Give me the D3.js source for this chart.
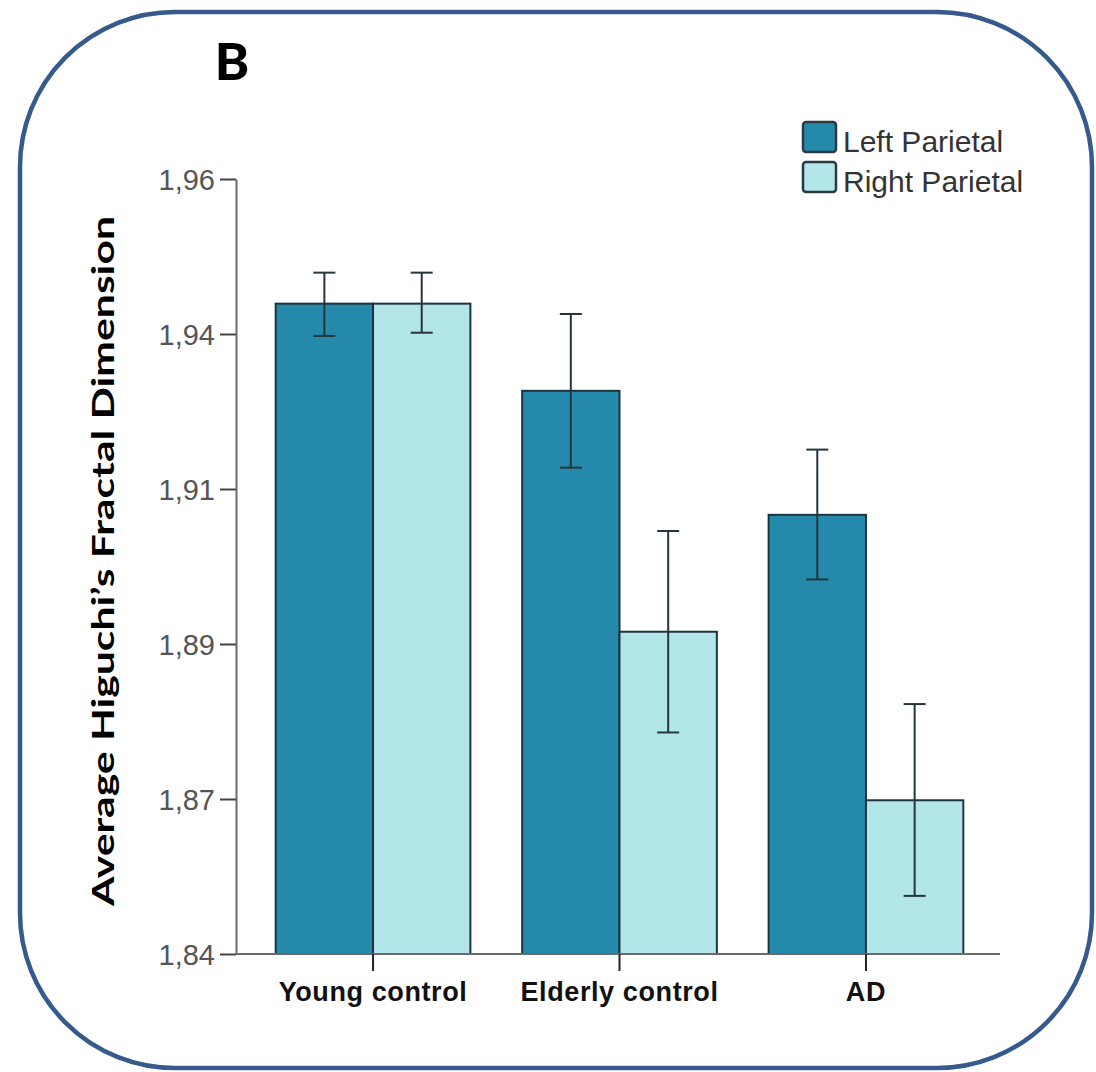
<!DOCTYPE html>
<html>
<head>
<meta charset="utf-8">
<script src="https://cdn.jsdelivr.net/npm/d3@7"></script>
<style>
  html, body { margin: 0; padding: 0; background: #ffffff; }
  svg { display: block; }
</style>
</head>
<body>
<svg id="chart" width="1096" height="1072"></svg>
<script>
// Groups and series
const groups = ["Young control", "Elderly control", "AD"];
const seriesNames = ["Left Parietal", "Right Parietal"];

// Mean Higuchi fractal dimension per group, one array per hemisphere
const leftMeans  = [1.9407, 1.9272, 1.9080];
const rightMeans = [1.9407, 1.8899, 1.8638];

// Error bar ends (lower / upper)
const leftLower  = [1.9357, 1.9153, 1.8980];
const leftUpper  = [1.9455, 1.9391, 1.9181];
const rightLower = [1.9362, 1.8743, 1.8490];
const rightUpper = [1.9455, 1.9055, 1.8787];

// Y axis ticks and their printed labels
const yTickValues = [1.84, 1.864, 1.888, 1.912, 1.936, 1.96];
const yTickLabels = ["1,84", "1,87", "1,89", "1,91", "1,94", "1,96"];

const colors = ["#2589ab", "#b3e6e8"];
const barStroke = "#1c3440";

const svg = d3.select("#chart");

// Rounded frame around the panel
svg.append("rect")
  .attr("x", 20).attr("y", 12)
  .attr("width", 1072).attr("height", 1056)
  .attr("rx", 155).attr("ry", 155)
  .attr("fill", "#ffffff")
  .attr("stroke", "#365a8c")
  .attr("stroke-width", 4.5);

// Panel letter
svg.append("text")
  .attr("x", 232).attr("y", 80)
  .attr("text-anchor", "middle")
  .attr("font-family", "Lato, 'Open Sans', sans-serif")
  .attr("font-weight", 900)
  .attr("font-size", 52)
  .attr("fill", "#000")
  .text("B");

// Scales
const y = d3.scaleLinear().domain([1.84, 1.96]).range([954, 179]);
const x0 = d3.scaleBand().domain(groups).range([236, 1003])
  .paddingInner(0.21).paddingOuter(0.161);
const x1 = d3.scaleBand().domain(seriesNames).range([0, x0.bandwidth()]).padding(0);

// Y axis
const yAxis = d3.axisLeft(y)
  .tickValues(yTickValues)
  .tickFormat((d, i) => yTickLabels[i])
  .tickSize(16)
  .tickPadding(5)
  .tickSizeOuter(0);

const gy = svg.append("g")
  .attr("transform", "translate(236,0)")
  .call(yAxis);
gy.select(".domain").attr("stroke", "#6a6a6a").attr("stroke-width", 2);
gy.selectAll(".tick line").attr("stroke", "#444").attr("stroke-width", 2);
gy.selectAll(".tick text")
  .attr("font-family", "'Liberation Sans', Arial, sans-serif")
  .attr("font-size", 29)
  .attr("fill", "#555")
  .attr("dy", "0.36em");

// Y axis title, stretched along its length
svg.append("text")
  .attr("transform", "translate(114,561) rotate(-90)")
  .attr("text-anchor", "middle")
  .attr("font-family", "Lato, 'Open Sans', sans-serif")
  .attr("font-weight", 700)
  .attr("font-size", 30)
  .attr("fill", "#000")
  .attr("textLength", 690)
  .attr("lengthAdjust", "spacingAndGlyphs")
  .text("Average Higuchi\u2019s Fractal Dimension");

// Bars
const rows = groups.map((g, i) => ({
  group: g,
  values: [
    { series: seriesNames[0], mean: leftMeans[i], lo: leftLower[i], hi: leftUpper[i], k: 0 },
    { series: seriesNames[1], mean: rightMeans[i], lo: rightLower[i], hi: rightUpper[i], k: 1 }
  ]
}));

const gGroups = svg.append("g").selectAll("g")
  .data(rows)
  .join("g")
  .attr("transform", d => `translate(${x0(d.group)},0)`);

gGroups.selectAll("rect")
  .data(d => d.values)
  .join("rect")
  .attr("x", d => x1(d.series))
  .attr("y", d => y(d.mean))
  .attr("width", x1.bandwidth())
  .attr("height", d => y(1.84) - y(d.mean))
  .attr("fill", d => colors[d.k])
  .attr("stroke", barStroke)
  .attr("stroke-width", 2);

// X axis line and group ticks
const xAxis = d3.axisBottom(x0).tickSize(17).tickSizeOuter(0).tickPadding(11);
const gx = svg.append("g")
  .attr("transform", "translate(0,954)")
  .call(xAxis);
gx.select(".domain").attr("stroke", "#6a6a6a").attr("stroke-width", 2)
  .attr("d", `M236,0H1000`);
gx.selectAll(".tick line").attr("stroke", "#222").attr("stroke-width", 2);
gx.selectAll(".tick text")
  .attr("font-family", "'Liberation Sans', Arial, sans-serif")
  .attr("font-weight", 700)
  .attr("font-size", 27)
  .attr("letter-spacing", 0.6)
  .attr("fill", "#111")
  .attr("dy", "0.71em");

// Error bars
const capHalf = 11;
const errs = gGroups.selectAll("g.err")
  .data(d => d.values)
  .join("g")
  .attr("class", "err")
  .attr("transform", d => `translate(${x1(d.series) + x1.bandwidth() / 2},0)`)
  .attr("stroke", "#26343c")
  .attr("stroke-width", 2);
errs.append("line")
  .attr("x1", 0).attr("x2", 0)
  .attr("y1", d => y(d.lo)).attr("y2", d => y(d.hi));
errs.append("line")
  .attr("x1", -capHalf).attr("x2", capHalf)
  .attr("y1", d => y(d.hi)).attr("y2", d => y(d.hi));
errs.append("line")
  .attr("x1", -capHalf).attr("x2", capHalf)
  .attr("y1", d => y(d.lo)).attr("y2", d => y(d.lo));

// Legend
const legend = svg.append("g").attr("transform", "translate(803,122)");
const li = legend.selectAll("g")
  .data(seriesNames)
  .join("g")
  .attr("transform", (d, i) => `translate(0,${i * 40})`);
li.append("rect")
  .attr("width", 33).attr("height", 30)
  .attr("rx", 3)
  .attr("fill", (d, i) => colors[i])
  .attr("stroke", "#2a3a40")
  .attr("stroke-width", 2.5);
li.append("text")
  .attr("x", 40).attr("y", 30)
  .attr("font-family", "'Liberation Sans', Arial, sans-serif")
  .attr("font-size", 30)
  .attr("fill", "#333")
  .text(d => d);
</script>
</body>
</html>
